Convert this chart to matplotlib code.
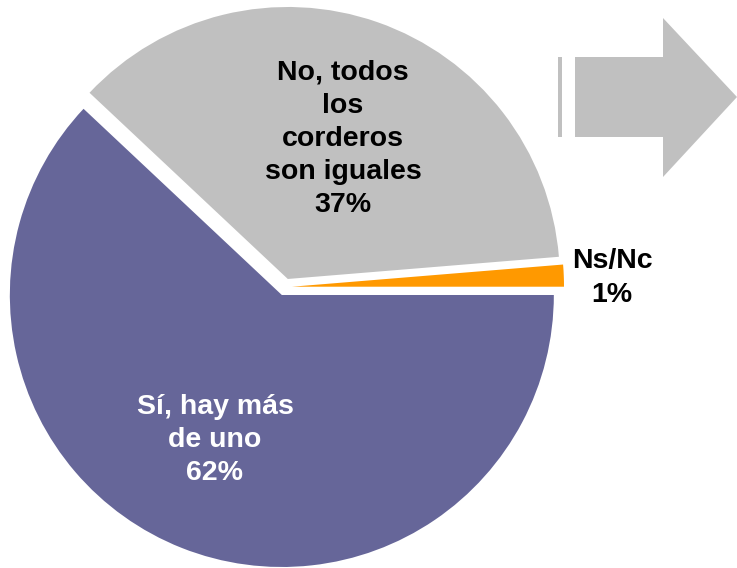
import matplotlib
matplotlib.use("Agg")
import matplotlib.pyplot as plt
from matplotlib.patches import Polygon, Rectangle

# Data
categories = ["Sí, hay más\nde uno", "No, todos\nlos\ncorderos\nson iguales", "Ns/Nc"]
values = [62.0, 36.7, 1.3]
colors = ["#666699", "#C0C0C0", "#FF9900"]
text_colors = ["white", "black", "black"]

plt.rcParams['font.family'] = ['Liberation Sans', 'DejaVu Sans']

W, H = 737, 568
fig = plt.figure(figsize=(W / 100, H / 100), dpi=100)
ax = fig.add_axes([0, 0, 1, 1])

cx, cy, R = 285, H - 287, 272
ax.pie(values, colors=colors, startangle=0, counterclock=False,
       explode=[8.6, 8.5, 7.0], center=(cx, cy), radius=R,
       wedgeprops=dict(linewidth=0))

ax.set_xlim(0, W)
ax.set_ylim(0, H)
ax.axis('off')

# labels
label_pos = [(215, H - 440), (343, H - 139), (612, H - 278)]
for cat, v, (x, y), tc in zip(categories, values, label_pos, text_colors):
    ax.text(x, y, f"{cat}\n{round(v)}%", ha='center', va='center',
            fontsize=20.5, fontweight='bold', color=tc, linespacing=1.36)

# decorative arrow (top right)
ax.add_patch(Rectangle((558, H - 137), 4, 80, facecolor="#C0C0C0", edgecolor='none'))
arrow_pts = [(575, H - 57), (663, H - 57), (663, H - 18), (737, H - 97),
             (663, H - 177), (663, H - 137), (575, H - 137)]
ax.add_patch(Polygon(arrow_pts, closed=True, facecolor="#C0C0C0", edgecolor='none'))

fig.savefig("out.png", dpi=100)
